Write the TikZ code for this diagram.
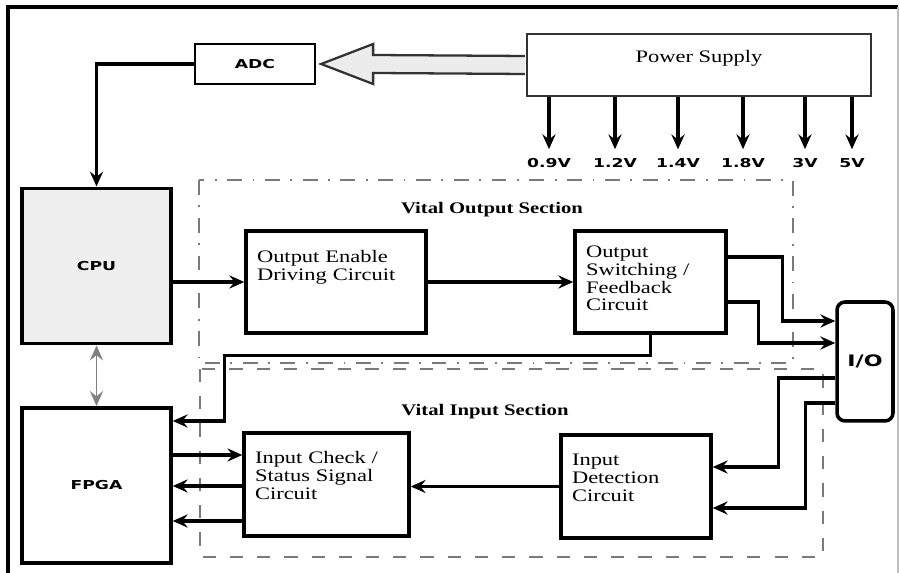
\documentclass[tikz,border=0pt]{standalone}
\usepackage{fontspec}
\setmainfont[FakeStretch=1.28]{Liberation Serif}
\newfontfamily\blocksans[FakeStretch=1.4]{DejaVu Sans}
\usetikzlibrary{arrows.meta, calc}
\definecolor{cpugray}{HTML}{EEEEEE}
\definecolor{sectgray}{HTML}{7A7A7A}
\newcommand{\boxfont}{\fontsize{10}{10}\selectfont}
\newcommand{\chipfont}{\fontsize{7}{8}\selectfont\blocksans\bfseries}

\begin{document}
\begin{tikzpicture}[
    x=0.02cm, y=-0.02cm,
    >={Stealth[length=8.5pt, width=7.5pt, inset=3pt]},
    conn/.style={line width=1.8pt},
    chip/.style={rectangle, draw, line width=2pt, minimum width=2.98cm,
                 minimum height=3.11cm, font=\chipfont},
    cbox/.style 2 args={rectangle, draw, line width=2pt, align=left,
                 inner xsep=0.22cm, inner ysep=0pt, text height=#1,
                 text depth=#2, font=\boxfont},
    sectframe/.style={draw=sectgray, line width=1.3pt},
    secttitle/.style={font=\fontsize{9.2}{11}\selectfont\bfseries},
    vlabel/.style={font=\chipfont, inner xsep=0pt, inner ysep=5pt},
  ]
  \useasboundingbox (0,0) rectangle (900,573);
  % frame
  \draw[line width=2pt] (8,573) -- (8,7) -- (898,7);
  \draw[gray!50, line width=0.6pt] (898,7) -- (898,573);

  % section frames
  \draw[sectframe, dash pattern=on 8.5pt off 6pt on 1pt off 6pt]
    (199,180) rectangle (793,363);
  \draw[sectframe, dash pattern=on 7.5pt off 8pt] (200,369) rectangle (823,557);
  \node[secttitle] (outtitle) at (492,210) {Vital Output Section};
  \node[secttitle] (intitle) at (485,412) {Vital Input Section};

  % power supply
  \node[rectangle, draw=black!80, line width=1.3pt, inner sep=0pt,
        minimum width=6.88cm, text height=0.58cm, text depth=0.66cm,
        font=\boxfont] (psu) at (699,65) {Power Supply};
  \node[rectangle, draw, line width=1.3pt, minimum width=2.4cm,
        minimum height=0.8cm, font=\chipfont] (adc) at (255,64) {ADC};
  \draw[draw=black!80, line width=1.3pt, fill=gray!15]
    ($(psu.west)+(-1,-9)$) -- ($(adc.east)+(57,-9)$) -- ($(adc.east)+(57,-20)$)
    -- ($(adc.east)+(5,0)$) -- ($(adc.east)+(57,20)$) -- ($(adc.east)+(57,9)$)
    -- ($(psu.west)+(-1,9)$);
  \foreach \x/\vtext [count=\i] in {549/0.9V, 615/1.2V, 678/1.4V,
                                     743/1.8V, 805/3V, 852/5V} {
    \node[vlabel] (v\i) at (\x,163) {\vtext};
    \draw[->, conn] (psu.south -| v\i) -- (v\i.north);
  }

  % CPU and FPGA
  \node[chip, fill=cpugray] (cpu) at (96.5,266) {CPU};
  \node[chip] (fpga) at (96.5,485.5) {FPGA};
  \draw[->, conn] (adc.west) -| (cpu.north);
  \draw[<->, gray, line width=1.1pt] (cpu.south) -- (fpga.north);

  % output side
  \node[cbox={0.64cm}{1.4cm}, text width=3.16cm] (oed) at (336,282)
    {Output Enable\\Driving Circuit};
  \node[cbox={0.54cm}{1.5cm}, text width=2.58cm] (osw) at (650.5,282)
    {Output\\Switching /\\Feedback\\Circuit};
  \node[rectangle, draw, line width=2pt, rounded corners=0.16cm,
        minimum width=1.12cm, minimum height=2.38cm,
        font=\fontsize{9}{10}\selectfont\blocksans\bfseries] (io) at (865,361.5) {I/O};
  \draw[->, conn] (cpu.east |- oed.west) -- (oed.west);
  \draw[->, conn] (oed) -- (osw);
  \draw[->, conn] ($(osw.east)+(0,-25)$) -- ++(55,0) |- ($(io.west)+(0,-40.5)$);
  \draw[->, conn] ($(osw.east)+(0,20)$) -- ++(31,0) |- ($(io.west)+(0,-18.5)$);
  \draw[->, conn] (osw.south) -- ++(0,21) -| ($(fpga.east)+(52,-64.5)$)
    -- ($(fpga.east)+(0,-64.5)$);

  % input side
  \node[cbox={0.62cm}{1.44cm}, text width=2.86cm] (ics) at (326.5,484.5)
    {Input Check /\\Status Signal\\Circuit};
  \node[cbox={0.62cm}{1.44cm}, text width=2.56cm] (idc) at (636,486.5)
    {Input\\Detection\\Circuit};
  \draw[->, conn] ($(io.west)+(0,16.5)$) -- ++(-57,0) |- ($(idc.east)+(0,-19.5)$);
  \draw[->, conn] ($(io.west)+(0,41.5)$) -- ++(-30,0) |- ($(idc.east)+(0,21.5)$);
  \draw[->, conn] (idc.west) -- (idc.west -| ics.east);
  \coordinate (icsin) at ($(ics.west)+(0,-29.5)$);
  \draw[->, conn] (fpga.east |- icsin) -- (icsin);
  \foreach \dy [count=\i] in {1.5, 36.5} {
    \coordinate (icsout\i) at ($(ics.west)+(0,\dy)$);
    \draw[->, conn] (icsout\i) -- (icsout\i -| fpga.east);
  }
\end{tikzpicture}
\end{document}
